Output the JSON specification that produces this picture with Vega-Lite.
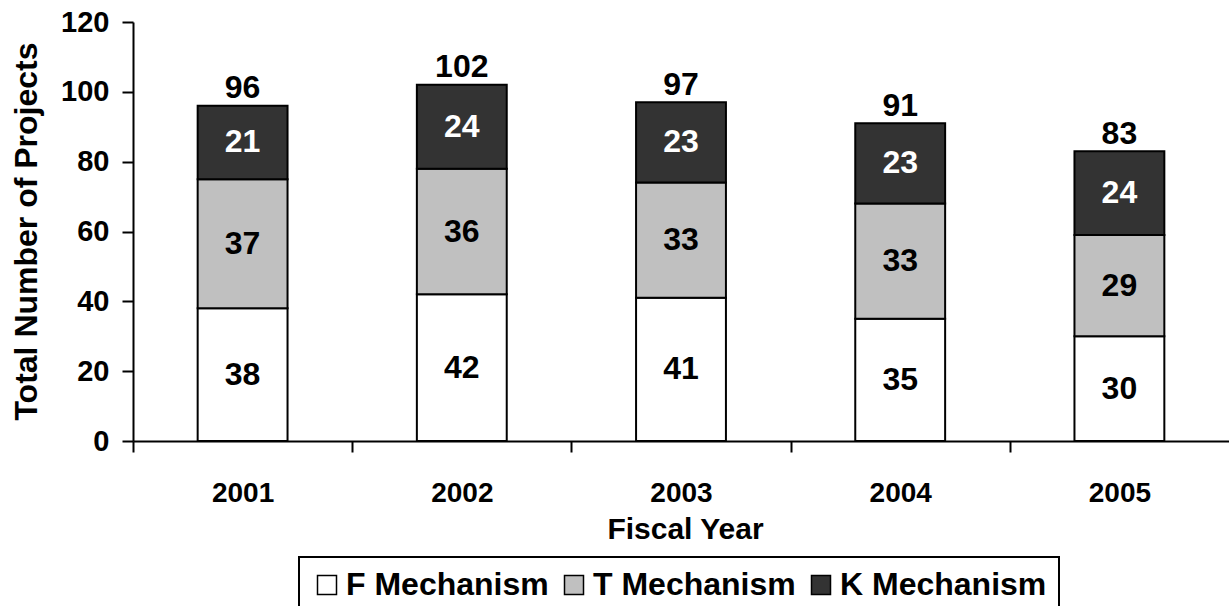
{
  "$schema": "https://vega.github.io/schema/vega-lite/v6.json",
  "width": 1096,
  "height": 419,
  "autosize": {"type": "none"},
  "padding": {"left": 133, "top": 22, "right": 0, "bottom": 165},
  "background": "white",
  "config": {
    "view": {"stroke": null},
    "font": "Liberation Sans",
    "axis": {
      "domainColor": "black",
      "tickColor": "black",
      "labelColor": "black",
      "titleColor": "black",
      "labelFont": "Liberation Sans",
      "titleFont": "Liberation Sans",
      "labelFontWeight": "bold",
      "titleFontWeight": "bold",
      "grid": false,
      "domainWidth": 2,
      "tickWidth": 2,
      "tickSize": 11
    }
  },
  "data": {
    "values": [
      {"year": "2001", "mechanism": "F Mechanism", "value": 38, "ord": 1},
      {"year": "2001", "mechanism": "T Mechanism", "value": 37, "ord": 2},
      {"year": "2001", "mechanism": "K Mechanism", "value": 21, "ord": 3},
      {"year": "2002", "mechanism": "F Mechanism", "value": 42, "ord": 1},
      {"year": "2002", "mechanism": "T Mechanism", "value": 36, "ord": 2},
      {"year": "2002", "mechanism": "K Mechanism", "value": 24, "ord": 3},
      {"year": "2003", "mechanism": "F Mechanism", "value": 41, "ord": 1},
      {"year": "2003", "mechanism": "T Mechanism", "value": 33, "ord": 2},
      {"year": "2003", "mechanism": "K Mechanism", "value": 23, "ord": 3},
      {"year": "2004", "mechanism": "F Mechanism", "value": 35, "ord": 1},
      {"year": "2004", "mechanism": "T Mechanism", "value": 33, "ord": 2},
      {"year": "2004", "mechanism": "K Mechanism", "value": 23, "ord": 3},
      {"year": "2005", "mechanism": "F Mechanism", "value": 30, "ord": 1},
      {"year": "2005", "mechanism": "T Mechanism", "value": 29, "ord": 2},
      {"year": "2005", "mechanism": "K Mechanism", "value": 24, "ord": 3}
    ]
  },
  "encoding": {
    "x": {
      "field": "year",
      "type": "ordinal",
      "scale": {"paddingInner": 0.59, "paddingOuter": 0.295},
      "axis": {
        "title": "Fiscal Year",
        "labelAngle": 0,
        "tickOffset": -109.6,
        "labelOffset": 109.6,
        "labelFontSize": 28,
        "labelBaseline": "alphabetic",
        "labelPadding": 49,
        "titleFontSize": 30,
        "titleBaseline": "alphabetic",
        "titleY": 97,
        "titleX": 552
      }
    }
  },
  "layer": [
    {
      "mark": {"type": "bar", "stroke": "black", "strokeWidth": 2},
      "encoding": {
        "y": {
          "field": "value",
          "type": "quantitative",
          "stack": "zero",
          "scale": {"domain": [0, 120]},
          "axis": {
            "title": "Total Number of Projects",
            "values": [0, 20, 40, 60, 80, 100, 120],
            "labelFontSize": 29,
            "labelPadding": 13,
            "titleFontSize": 32,
            "titleAngle": -90,
            "titleBaseline": "middle",
            "titleAlign": "center",
            "titleX": -107,
            "titleY": 209
          }
        },
        "color": {
          "field": "mechanism",
          "type": "nominal",
          "scale": {
            "domain": ["F Mechanism", "T Mechanism", "K Mechanism"],
            "range": ["#FFFFFF", "#C0C0C0", "#333333"]
          },
          "legend": {
            "orient": "none",
            "legendX": 166,
            "legendY": 535,
            "direction": "horizontal",
            "title": null,
            "symbolType": "square",
            "symbolSize": 361,
            "symbolStrokeColor": "black",
            "symbolStrokeWidth": 1.5,
            "symbolOpacity": 1,
            "labelFontSize": 32,
            "labelFont": "Liberation Sans",
            "labelFontWeight": "bold",
            "labelColor": "black",
            "labelLimit": 0,
            "labelOffset": 3,
            "columnPadding": 9,
            "padding": 12,
            "strokeColor": "black",
            "encode": {"legend": {"update": {"strokeWidth": {"value": 2}}}}
          }
        },
        "order": {"field": "ord", "type": "quantitative"}
      }
    },
    {
      "mark": {"type": "text", "fontSize": 32, "fontWeight": "bold", "font": "Liberation Sans", "baseline": "middle"},
      "encoding": {
        "y": {"field": "value", "type": "quantitative", "stack": "zero", "bandPosition": 0.5},
        "text": {"field": "value", "type": "quantitative"},
        "order": {"field": "ord", "type": "quantitative"},
        "color": {
          "condition": {"test": "datum.mechanism === 'K Mechanism'", "value": "white"},
          "value": "black"
        }
      }
    },
    {
      "mark": {"type": "text", "fontSize": 32, "fontWeight": "bold", "font": "Liberation Sans", "baseline": "alphabetic", "dy": -7.5, "color": "black"},
      "encoding": {
        "y": {"aggregate": "sum", "field": "value", "type": "quantitative"},
        "text": {"aggregate": "sum", "field": "value", "type": "quantitative"}
      }
    }
  ]
}
